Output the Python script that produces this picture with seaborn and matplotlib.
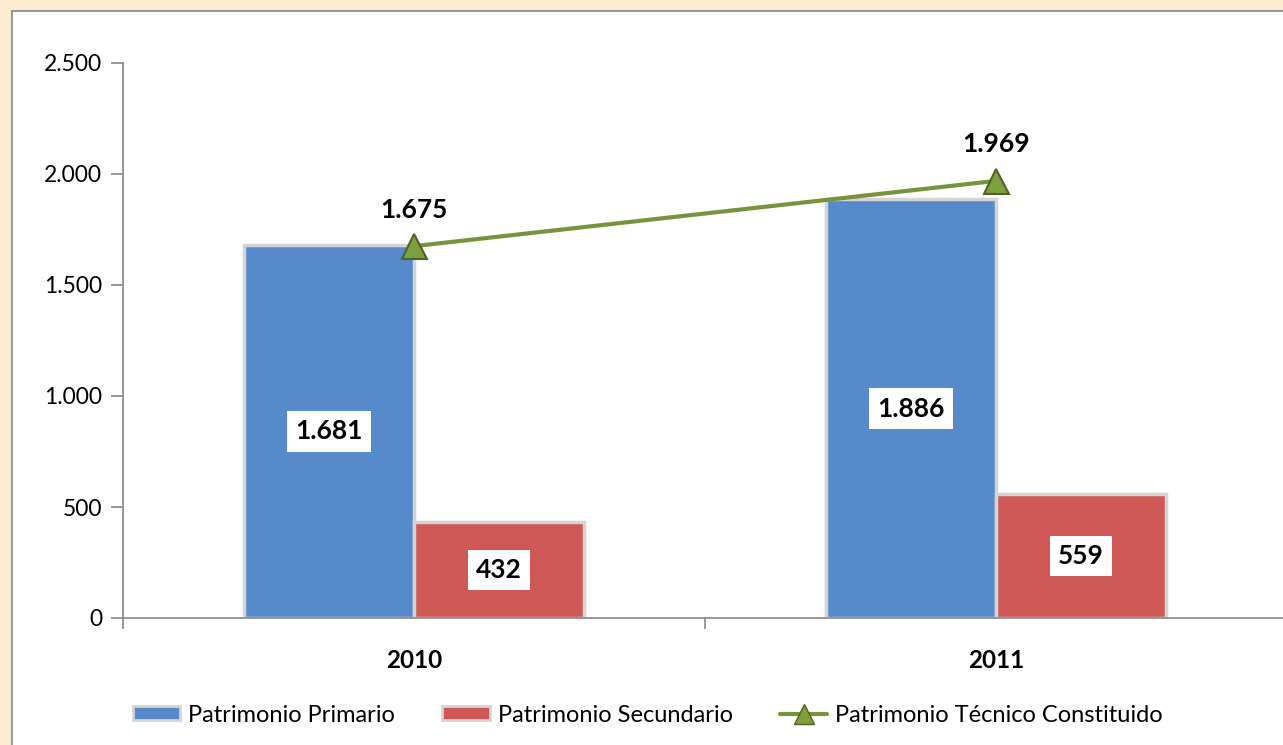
import pandas as pd
import numpy as np
import matplotlib.pyplot as plt
import seaborn as sns
from matplotlib.patches import Rectangle
from matplotlib.lines import Line2D

years = ["2010", "2011"]
primario = [1681, 1886]
secundario = [432, 559]
tecnico = [1675, 1969]
series_names = ["Patrimonio Primario", "Patrimonio Secundario", "Patrimonio Técnico Constituido"]

col_blue = "#568ACB"
col_red = "#CD5855"
col_green = "#77933C"


def fmt(v):
    return f"{v:,.0f}".replace(",", ".")


df = pd.DataFrame({
    "year": years * 2,
    "value": primario + secundario,
    "serie": [series_names[0]] * 2 + [series_names[1]] * 2,
})

sns.set_style("white")
plt.rcParams["font.family"] = ["Lato", "DejaVu Sans"]
plt.rcParams["text.color"] = "black"
plt.rcParams["xtick.color"] = "black"
plt.rcParams["ytick.color"] = "black"

fig = plt.figure(figsize=(12.83, 7.45), dpi=100)
fig.patch.set_facecolor("#FDEBD2")
# white chart panel with grey frame
fig.patches.append(Rectangle((12 / 1283, -0.01), 1.02, 1 - 11 / 745 + 0.01,
                             transform=fig.transFigure, facecolor="white",
                             edgecolor="#9a9a9a", linewidth=1.5, zorder=-5))

ax = fig.add_axes([123 / 1283, 1 - 618 / 745, 1 - 123 / 1283 + 0.003, (618 - 63) / 745])
ax.set_facecolor("none")

sns.barplot(data=df, x="year", y="value", hue="serie", palette=[col_blue, col_red],
            width=0.585, ax=ax, legend=False, edgecolor="#d4d4d4", linewidth=2.5,
            saturation=1)

ax.plot([0, 1], tecnico, color=col_green, linewidth=3, marker="^", markersize=18,
        markerfacecolor="#7F9E3E", markeredgecolor="#4F6228", markeredgewidth=1.5, zorder=5)

# data labels inside bars
for cont, vals in zip(ax.containers, [primario, secundario]):
    for bar, v in zip(cont, vals):
        x = bar.get_x() + bar.get_width() / 2
        ax.text(x, v / 2, fmt(v), ha="center", va="center", fontsize=19, fontweight="bold",
                bbox=dict(facecolor="white", edgecolor="none", pad=6))

for i, v in enumerate(tecnico):
    ax.text(i, v + 110, fmt(v), ha="center", va="bottom", fontsize=19, fontweight="bold")

ax.set_ylim(0, 2500)
ax.set_xlim(-0.5, 1.5)
ax.set_yticks(np.arange(0, 2501, 500))
ax.set_yticklabels([fmt(v) for v in np.arange(0, 2501, 500)], fontsize=16.5)
ax.set_xticks([0, 1])
ax.set_xticklabels(years, fontsize=17.5, fontweight="bold")
ax.set_xticks([-0.5, 0.5, 1.5], minor=True)
ax.tick_params(axis="x", which="major", bottom=False, length=0, pad=22)
ax.tick_params(axis="x", which="minor", bottom=True, length=8, color="#868686", width=1.2,
               direction="out")
ax.tick_params(axis="y", left=True, length=9, color="#868686", width=1.2, direction="out", pad=6)
ax.set_xlabel("")
ax.set_ylabel("")
for s in ["top", "right"]:
    ax.spines[s].set_visible(False)
for s in ["left", "bottom"]:
    ax.spines[s].set_color("#868686")
    ax.spines[s].set_linewidth(1.2)

handles = [
    Rectangle((0, 0), 1, 1, facecolor=col_blue, edgecolor="#d4d4d4", linewidth=2),
    Rectangle((0, 0), 1, 1, facecolor=col_red, edgecolor="#d4d4d4", linewidth=2),
    Line2D([], [], color=col_green, linewidth=3, marker="^", markersize=14,
           markerfacecolor="#7F9E3E", markeredgecolor="#4F6228"),
]
fig.legend(handles, series_names, loc="center", bbox_to_anchor=(0.505, 1 - 715 / 745), ncol=3,
           frameon=False, fontsize=17, handlelength=2.0, handleheight=0.5,
           handletextpad=0.35, columnspacing=2.0)

fig.savefig("out.png", dpi=100, facecolor=fig.get_facecolor())
